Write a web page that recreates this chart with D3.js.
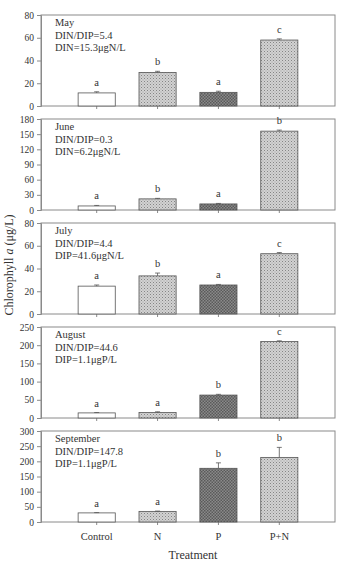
<!DOCTYPE html>
<html>
<head>
<meta charset="utf-8">
<script src="https://cdn.jsdelivr.net/npm/d3@7/dist/d3.min.js"></script>
<style>
  html, body { margin: 0; padding: 0; background: #fff; }
  svg { display: block; font-family: "Liberation Serif", "DejaVu Serif", serif; }
</style>
</head>
<body>
<svg id="chart" width="340" height="565"></svg>
<script>
// treatments on the x axis
const treatments = ['Control', 'N', 'P', 'P+N'];

// one entry per month panel
const months = ['May', 'June', 'July', 'August', 'September'];
const ratioLabels = ['DIN/DIP=5.4', 'DIN/DIP=0.3', 'DIN/DIP=4.4', 'DIN/DIP=44.6', 'DIN/DIP=147.8'];
const nutrientLabels = ['DIN=15.3μgN/L', 'DIN=6.2μgN/L', 'DIP=41.6μgN/L', 'DIP=1.1μgP/L', 'DIP=1.1μgP/L'];

// chlorophyll a means and error bars (μg/L)
const means = [
  [11.5, 29.5, 12, 58],
  [8, 22, 12, 156],
  [24.5, 33.5, 25.5, 53],
  [14, 15, 63, 210],
  [30, 35, 177, 213]
];
const errors = [
  [1, 1, 1, 1],
  [1, 1, 1, 2],
  [1, 2.5, 0.5, 1],
  [1, 2, 2, 2],
  [1, 1, 18, 33]
];
const letters = [
  ['a', 'b', 'a', 'c'],
  ['a', 'b', 'a', 'b'],
  ['a', 'b', 'a', 'c'],
  ['a', 'a', 'b', 'c'],
  ['a', 'a', 'b', 'b']
];
const yMax = [80, 180, 80, 250, 300];
const yTicks = [
  [0, 20, 40, 60, 80],
  [0, 30, 60, 90, 120, 150, 180],
  [0, 20, 40, 60, 80],
  [0, 50, 100, 150, 200, 250],
  [0, 50, 100, 150, 200, 250, 300]
];

const svg = d3.select('#chart');
const left = 41, right = 335;
const top0 = 15, panelStep = 104, panelH = 91;
const frameColor = '#8a8a8a';

// fill patterns
const defs = svg.append('defs');
const dots = defs.append('pattern')
  .attr('id', 'dots').attr('patternUnits', 'userSpaceOnUse')
  .attr('width', 3).attr('height', 3);
dots.append('rect').attr('width', 3).attr('height', 3).attr('fill', '#d2d2d2');
dots.append('rect').attr('width', 1).attr('height', 1).attr('fill', '#858585');
dots.append('rect').attr('x', 1.5).attr('y', 1.5).attr('width', 1).attr('height', 1).attr('fill', '#a0a0a0');

const checks = defs.append('pattern')
  .attr('id', 'checks').attr('patternUnits', 'userSpaceOnUse')
  .attr('width', 3).attr('height', 3);
checks.append('rect').attr('width', 3).attr('height', 3).attr('fill', '#8a8a8a');
checks.append('rect').attr('width', 1.5).attr('height', 1.5).attr('fill', '#5a5a5a');
checks.append('rect').attr('x', 1.5).attr('y', 1.5).attr('width', 1.5).attr('height', 1.5).attr('fill', '#5a5a5a');

const fills = { 'Control': '#ffffff', 'N': 'url(#dots)', 'P': 'url(#checks)', 'P+N': 'url(#dots)' };

const x = d3.scaleBand()
  .domain(treatments)
  .range([left, right])
  .paddingInner(0.39)
  .paddingOuter(0.61);

months.forEach((month, i) => {
  const top = top0 + i * panelStep;
  const bottom = top + panelH;
  const y = d3.scaleLinear().domain([0, yMax[i]]).range([bottom, top]);
  const g = svg.append('g');

  // frame
  g.append('rect')
    .attr('x', left).attr('y', top)
    .attr('width', right - left).attr('height', panelH)
    .attr('fill', 'none').attr('stroke', frameColor).attr('stroke-width', 1);

  // y axis
  const yAxis = g.append('g')
    .attr('transform', `translate(${left},0)`)
    .call(d3.axisLeft(y).tickValues(yTicks[i]).tickSize(4).tickPadding(3));
  yAxis.select('.domain').attr('stroke', frameColor);
  yAxis.selectAll('.tick line').attr('stroke', frameColor);
  yAxis.selectAll('text')
    .attr('font-family', '"Liberation Serif", serif')
    .attr('font-size', 9.5).attr('fill', '#333');

  // x axis ticks
  const xAxis = g.append('g')
    .attr('transform', `translate(0,${bottom})`)
    .call(d3.axisBottom(x).tickSize(3).tickFormat(i === months.length - 1 ? null : ''));
  xAxis.select('.domain').remove();
  xAxis.selectAll('.tick line').attr('stroke', frameColor);
  xAxis.selectAll('text')
    .attr('font-family', '"Liberation Serif", serif')
    .attr('font-size', 10.5).attr('fill', '#333')
    .attr('dy', '1.1em');

  const rows = treatments.map((t, j) => ({ t, v: means[i][j], e: errors[i][j], l: letters[i][j] }));

  // bars
  g.selectAll('rect.bar').data(rows).join('rect')
    .attr('class', 'bar')
    .attr('x', (d) => x(d.t))
    .attr('y', (d) => y(d.v))
    .attr('width', x.bandwidth())
    .attr('height', (d) => bottom - y(d.v))
    .attr('fill', (d) => fills[d.t])
    .attr('stroke', '#555').attr('stroke-width', 0.8);

  // error bars
  const cx = (d) => x(d.t) + x.bandwidth() / 2;
  g.selectAll('line.err').data(rows).join('line')
    .attr('class', 'err')
    .attr('x1', cx).attr('x2', cx)
    .attr('y1', (d) => y(d.v)).attr('y2', (d) => y(d.v + d.e))
    .attr('stroke', '#555').attr('stroke-width', 0.8);
  g.selectAll('line.cap').data(rows).join('line')
    .attr('class', 'cap')
    .attr('x1', (d) => cx(d) - 2.5).attr('x2', (d) => cx(d) + 2.5)
    .attr('y1', (d) => y(d.v + d.e)).attr('y2', (d) => y(d.v + d.e))
    .attr('stroke', '#555').attr('stroke-width', 0.8);

  // significance letters
  g.selectAll('text.letter').data(rows).join('text')
    .attr('class', 'letter')
    .attr('x', cx)
    .attr('y', (d) => y(d.v + d.e) - 6)
    .attr('text-anchor', 'middle')
    .attr('font-size', 10.5).attr('fill', '#333')
    .text((d) => d.l);

  // panel annotation
  const note = g.append('text')
    .attr('x', 55).attr('y', top + 11)
    .attr('font-size', 10.5).attr('fill', '#333');
  [month, ratioLabels[i], nutrientLabels[i]].forEach((s, k) => {
    note.append('tspan').attr('x', 55).attr('dy', k === 0 ? 0 : 12.7).text(s);
  });
});

// axis titles
const yTitle = svg.append('text')
  .attr('transform', 'translate(13,265) rotate(-90)')
  .attr('text-anchor', 'middle')
  .attr('font-size', 12).attr('fill', '#333');
yTitle.append('tspan').text('Chlorophyll ');
yTitle.append('tspan').attr('font-style', 'italic').text('a');
yTitle.append('tspan').text(' (μg/L)');

svg.append('text')
  .attr('x', (left + right) / 2 + 5).attr('y', 559)
  .attr('text-anchor', 'middle')
  .attr('font-size', 12).attr('fill', '#333')
  .text('Treatment');
</script>
</body>
</html>
